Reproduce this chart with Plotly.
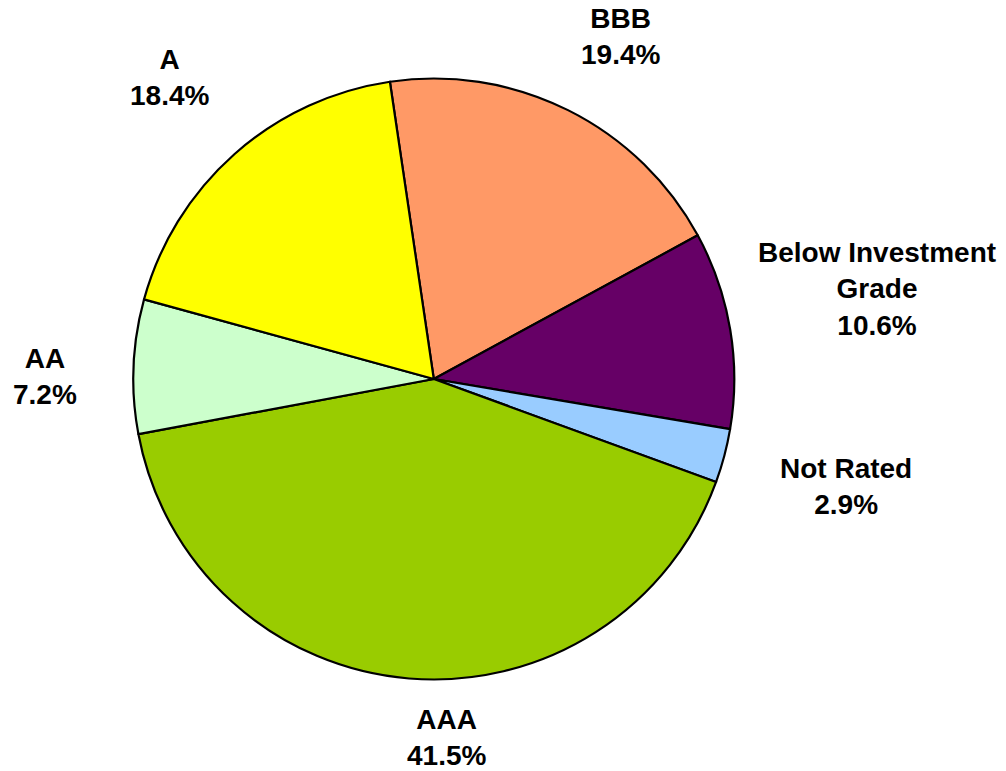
import plotly.graph_objects as go

# Portfolio credit quality breakdown (percent of total)
ratings = ["BBB", "Below Investment<br>Grade", "Not Rated", "AAA", "AA", "A"]
shares = [19.4, 10.6, 2.9, 41.5, 7.2, 18.4]
colors = ["#FF9966", "#660066", "#99CCFF", "#99CC00", "#CCFFCC", "#FFFF00"]

# Label centres in pixels, same order as the ratings
label_px = [(620, 36), (877, 289), (846, 486), (446, 737), (45, 376), (169, 78)]

W, H = 1006, 771
cx, cy, R = 433.8, 379.0, 300.5

fig = go.Figure(
    go.Pie(
        labels=ratings,
        values=shares,
        sort=False,
        direction="clockwise",
        rotation=-8.4,
        marker=dict(colors=colors, line=dict(color="#000000", width=2.2)),
        textinfo="none",
        hoverinfo="label+percent",
        showlegend=False,
        domain=dict(
            x=[(cx - R) / W, (cx + R) / W],
            y=[(H - cy - R) / H, (H - cy + R) / H],
        ),
    )
)

for name, val, (px, py) in zip(ratings, shares, label_px):
    fig.add_annotation(
        x=px / W,
        y=1 - py / H,
        xref="paper",
        yref="paper",
        xanchor="center",
        yanchor="middle",
        align="center",
        showarrow=False,
        text=f"<b>{name}<br>{val:.1f}%</b>",
        font=dict(family="Arial, Liberation Sans, sans-serif", size=28, color="#000000"),
    )

fig.update_layout(
    width=W,
    height=H,
    margin=dict(l=0, r=0, t=0, b=0),
    paper_bgcolor="#FFFFFF",
    plot_bgcolor="#FFFFFF",
)

fig.write_html("out.html")
